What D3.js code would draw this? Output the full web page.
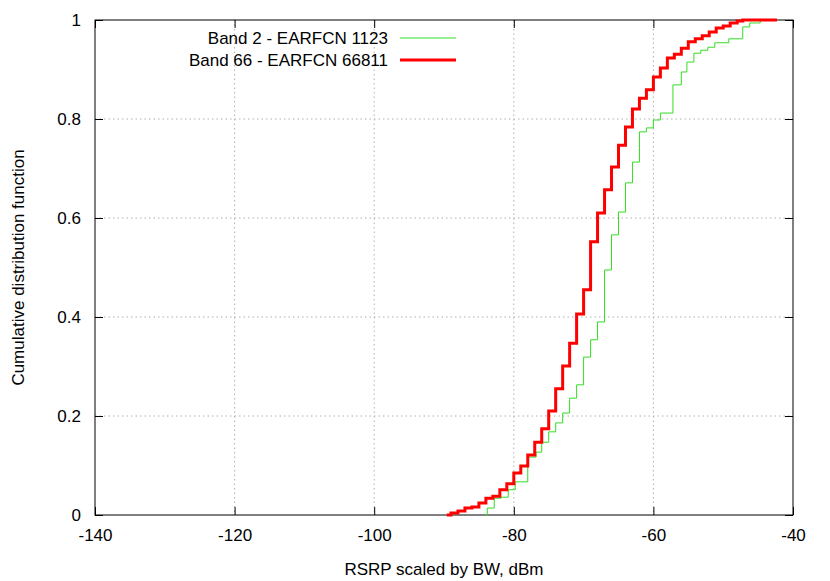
<!DOCTYPE html>
<html><head><meta charset="utf-8">
<script src="https://cdn.jsdelivr.net/npm/d3@7"></script>
<style>body{margin:0;background:#fff}text{font-family:"Liberation Sans",Arial,sans-serif}</style>
</head><body>
<svg id="c" width="830" height="581"></svg>
<script>
const xTicks = [-140, -120, -100, -80, -60, -40];
const yTicks = [0, 0.2, 0.4, 0.6, 0.8, 1];
const seriesNames = ['Band 2 - EARFCN 1123', 'Band 66 - EARFCN 66811'];

const band66X = [-89.6,-89,-88,-87,-86,-85,-84,-83,-82,-81,-80,-79,-78,-77,-76,-75,-74,-73,-72,-71,-70,-69,-68,-67,-66,-65,-64,-63,-62,-61,-60,-59,-58,-57,-56,-55,-54,-53,-52,-51,-50,-49,-48,-47.2,-42.3];
const band66Y = [0,.004,.008,.014,.016,.024,.034,.038,.051,.063,.085,.099,.121,.147,.174,.210,.255,.301,.347,.406,.455,.552,.610,.657,.703,.747,.784,.820,.842,.859,.885,.903,.923,.931,.943,.956,.962,.968,.976,.984,.988,.994,.998,1,1];

const band2X = [-84.1,-83.8,-82.8,-81.8,-80.8,-79.8,-78,-76.8,-76,-75,-74,-73,-72,-71,-70,-69,-68,-67,-66,-65,-64,-63,-62,-61,-60,-59,-57.2,-56,-55.2,-54.2,-53.2,-52.2,-51.2,-49.2,-47.2,-47.2,-46.2,-44.7,-42.3];
const band2Y = [0,.014,.034,.036,.051,.067,.117,.127,.147,.168,.186,.206,.236,.263,.319,.354,.390,.495,.566,.612,.671,.713,.774,.782,.798,.812,.869,.895,.915,.933,.939,.945,.954,.962,.970,.986,.994,1,1];

const m = {l: 95, r: 793, t: 20, b: 515};
const svg = d3.select('#c');
const x = d3.scaleLinear().domain([-140, -40]).range([m.l, m.r]);
const y = d3.scaleLinear().domain([0, 1]).range([m.b, m.t]);

// grid
svg.append('g').selectAll('line').data(xTicks.slice(1, -1)).enter().append('line')
  .attr('x1', d => x(d)).attr('x2', d => x(d)).attr('y1', m.t).attr('y2', m.b)
  .attr('stroke', '#b0b0b0').attr('stroke-dasharray', '1.5,3');
svg.append('g').selectAll('line').data(yTicks.slice(1, -1)).enter().append('line')
  .attr('y1', d => y(d)).attr('y2', d => y(d)).attr('x1', m.l).attr('x2', m.r)
  .attr('stroke', '#b0b0b0').attr('stroke-dasharray', '1.5,3');

// axes (gnuplot style: inward ticks, mirrored)
const fs = '17px';
svg.append('g').attr('transform', `translate(0,${m.b})`)
  .call(d3.axisBottom(x).tickValues(xTicks).tickSize(-8).tickPadding(14).tickFormat(d => String(d)))
  .call(g => g.select('.domain').remove());
svg.append('g').attr('transform', `translate(0,${m.t})`)
  .call(d3.axisTop(x).tickValues(xTicks).tickSize(-8).tickFormat(''))
  .call(g => g.select('.domain').remove());
svg.append('g').attr('transform', `translate(${m.l},0)`)
  .call(d3.axisLeft(y).tickValues(yTicks).tickSize(-8).tickPadding(14).tickFormat(d => String(d)))
  .call(g => g.select('.domain').remove());
svg.append('g').attr('transform', `translate(${m.r},0)`)
  .call(d3.axisRight(y).tickValues(yTicks).tickSize(-8).tickFormat(''))
  .call(g => g.select('.domain').remove());
svg.selectAll('.tick text').attr('font-size', fs).attr('fill', '#000')
  .attr('font-family', '"Liberation Sans",Arial,sans-serif');
svg.selectAll('.tick line').attr('stroke', '#000');
svg.append('rect').attr('x', m.l).attr('y', m.t).attr('width', m.r - m.l).attr('height', m.b - m.t)
  .attr('fill', 'none').attr('stroke', '#000');

// curves
const line = d3.line().x(d => x(d[0])).y(d => y(d[1])).curve(d3.curveStepAfter);
svg.append('path').datum(d3.zip(band2X, band2Y)).attr('d', line)
  .attr('fill', 'none').attr('stroke', '#33dd22').attr('stroke-width', 1);
svg.append('path').datum(d3.zip(band66X, band66Y)).attr('d', line)
  .attr('fill', 'none').attr('stroke', '#ff0000').attr('stroke-width', 3);

// legend
const leg = [{n: seriesNames[0], c: '#33dd22', w: 1}, {n: seriesNames[1], c: '#ff0000', w: 3}];
leg.forEach((d, i) => {
  const yy = 38 + i * 22;
  svg.append('text').attr('x', 388).attr('y', yy + 6).attr('text-anchor', 'end')
    .attr('font-size', fs).text(d.n);
  svg.append('line').attr('x1', 400).attr('x2', 456).attr('y1', yy).attr('y2', yy)
    .attr('stroke', d.c).attr('stroke-width', d.w);
});

// labels
svg.append('text').attr('x', 444).attr('y', 575).attr('text-anchor', 'middle')
  .attr('font-size', fs).text('RSRP scaled by BW, dBm');
svg.append('text').attr('transform', `translate(24,${(m.t + m.b) / 2}) rotate(-90)`)
  .attr('text-anchor', 'middle').attr('font-size', fs).text('Cumulative distribution function');
</script>
</body></html>
